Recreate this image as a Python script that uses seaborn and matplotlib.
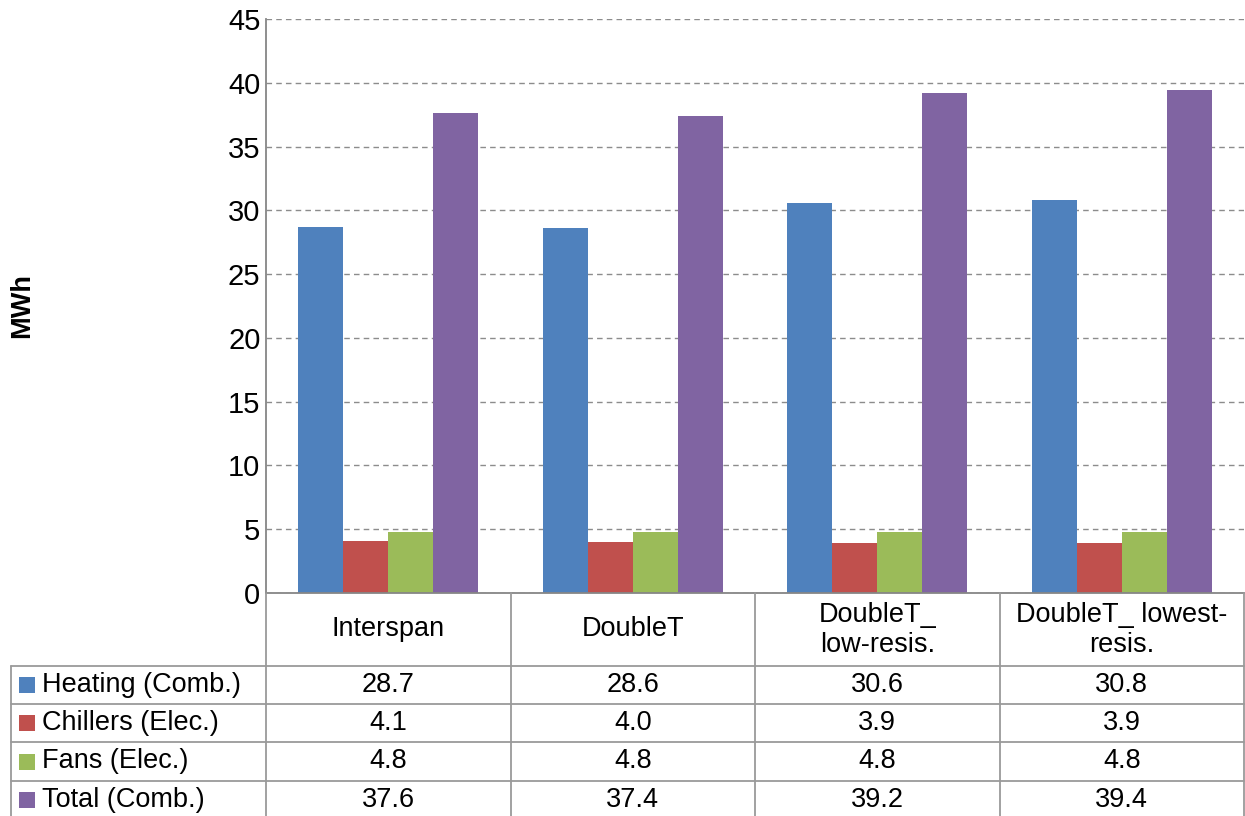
import pandas as pd
import seaborn as sns
import matplotlib.pyplot as plt
import matplotlib.transforms as mtransforms
from matplotlib.lines import Line2D
from matplotlib.patches import Rectangle

# data
cases = ['Interspan', 'DoubleT', 'DoubleT_\nlow-resis.', 'DoubleT_ lowest-\nresis.']
series = ['Heating (Comb.)', 'Chillers (Elec.)', 'Fans (Elec.)', 'Total (Comb.)']
heating = [28.7, 28.6, 30.6, 30.8]
chillers = [4.1, 4.0, 3.9, 3.9]
fans = [4.8, 4.8, 4.8, 4.8]
total = [37.6, 37.4, 39.2, 39.4]
colors = ['#4F81BD', '#C0504D', '#9BBB59', '#8064A2']

values = [heating, chillers, fans, total]
rows = []
for s, vals in zip(series, values):
    for c, v in zip(cases, vals):
        rows.append({'case': c, 'series': s, 'MWh': v})
df = pd.DataFrame(rows)

sns.set_style('white')
plt.rcParams['font.family'] = ['Liberation Sans', 'DejaVu Sans']
plt.rcParams['text.color'] = 'black'
plt.rcParams['ytick.color'] = 'black'
fs = 19.5
W, H = 1245, 816

fig = plt.figure(figsize=(12.45, 8.16), dpi=100)
ax = fig.add_axes([266 / W, 1 - 593 / H, (1244 - 266) / W, (593 - 19) / H])

sns.barplot(data=df, x='case', y='MWh', hue='series', order=cases,
            hue_order=series, palette=colors, width=0.735, gap=0,
            saturation=1, errorbar=None, legend=False, linewidth=0, ax=ax)

ax.set_xlim(-0.5, len(cases) - 0.5)
ax.set_ylim(0, 45)
ax.set_yticks(range(0, 46, 5))
ax.tick_params(axis='y', labelsize=21, length=0, pad=4, labelcolor='black')
ax.set_xticks([])
ax.set_xlabel('')
ax.set_ylabel('')
ax.yaxis.grid(True, linestyle=(0, (4, 3)), color='#8C8C8C', linewidth=1)
ax.set_axisbelow(True)
for sp in ['top', 'right']:
    ax.spines[sp].set_visible(False)
for sp in ['left', 'bottom']:
    ax.spines[sp].set_color('#868686')
    ax.spines[sp].set_linewidth(1.3)

fig.text(22 / W, 1 - 306 / H, 'MWh', rotation=90, ha='center', va='center',
         fontsize=fs, fontweight='bold')

# data table under the plot
def fy(py):
    return 1 - py / H

trans = mtransforms.blended_transform_factory(ax.transData, fig.transFigure)
lc = '#9A9A9A'
row_edges = [666, 704, 742, 781, 819]
x_left = 11 / W
x_right = ax.get_position().x1

for k in range(len(cases) + 1):
    fig.add_artist(Line2D([k - 0.5, k - 0.5], [fy(593), fy(819)], transform=trans,
                          color=lc, linewidth=1.3))
fig.add_artist(Line2D([x_left, x_left], [fy(666), fy(819)], transform=fig.transFigure,
                      color=lc, linewidth=1.3))
for py in row_edges:
    fig.add_artist(Line2D([x_left, x_right], [fy(py), fy(py)], transform=fig.transFigure,
                          color=lc, linewidth=1.3))

for i, c in enumerate(cases):
    fig.text(i, fy((593 + 666) / 2), c, transform=trans, ha='center', va='center',
             fontsize=fs, linespacing=1.2)

for r, (s, col, vals) in enumerate(zip(series, colors, values)):
    yc = (row_edges[r] + row_edges[r + 1]) / 2
    fig.add_artist(Rectangle((19 / W, fy(yc + 8)), 16 / W, 16 / H,
                             transform=fig.transFigure, facecolor=col, edgecolor='none'))
    fig.text(42 / W, fy(yc), s, ha='left', va='center', fontsize=fs)
    for i, v in enumerate(vals):
        fig.text(i, fy(yc), f'{v:.1f}', transform=trans, ha='center', va='center',
                 fontsize=fs)

fig.savefig('out.png', dpi=100)
